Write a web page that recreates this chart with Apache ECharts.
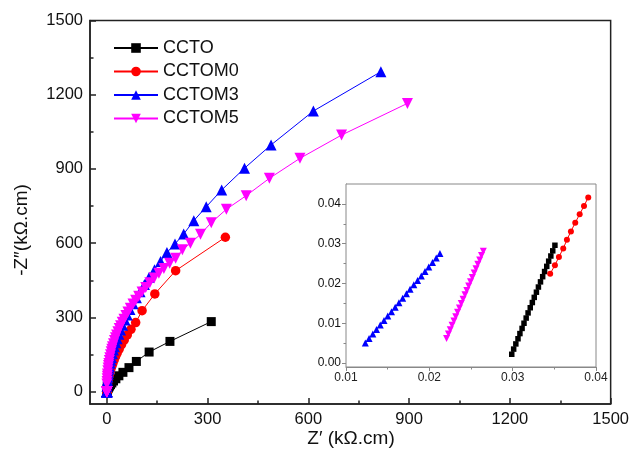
<!DOCTYPE html>
<html>
<head>
<meta charset="utf-8">
<script src="https://cdn.jsdelivr.net/npm/echarts@6/dist/echarts.min.js"></script>
<style>
  html, body { margin: 0; padding: 0; background: #fff; }
  #main { width: 632px; height: 455px; }
</style>
</head>
<body>
<div id="main"></div>
<script>
// 系列名称
var names = ['CCTO', 'CCTOM0', 'CCTOM3', 'CCTOM5']

// 主图刻度
var mainTicks = [0, 300, 600, 900, 1200, 1500]
var mainMinorTicks = [150, 450, 750, 1050, 1350]
// 插图刻度
var insetYTicks = [0, 0.01, 0.02, 0.03, 0.04]
var insetYMinorTicks = [0.005, 0.015, 0.025, 0.035]

// 高频段（插图）数据
var insetCctoX = [0.02989, 0.03012, 0.03038, 0.03064, 0.03087, 0.03113, 0.03136, 0.03162, 0.03185, 0.03211, 0.03236, 0.03259, 0.03285, 0.03309, 0.03334, 0.03360, 0.03383, 0.03409, 0.03432, 0.03458, 0.03481, 0.03507]
var insetCctoY = [0.0022, 0.0035, 0.0048, 0.0061, 0.0074, 0.0087, 0.0100, 0.0113, 0.0126, 0.0139, 0.0152, 0.0165, 0.0178, 0.0191, 0.0204, 0.0217, 0.0230, 0.0243, 0.0256, 0.0269, 0.0282, 0.0296]
var insetM0X = [0.03450, 0.03507, 0.03555, 0.03607, 0.03651, 0.03699, 0.03751, 0.03804, 0.03856, 0.03907]
var insetM0Y = [0.02245, 0.02456, 0.02668, 0.02878, 0.03098, 0.03309, 0.03529, 0.03739, 0.03949, 0.04162]
var insetM3X = [0.01232, 0.01277, 0.01322, 0.01366, 0.01411, 0.01456, 0.01501, 0.01546, 0.01590, 0.01635, 0.01680, 0.01725, 0.01769, 0.01814, 0.01859, 0.01904, 0.01948, 0.01993, 0.02038, 0.02083, 0.02127]
var insetM3Y = [0.00506, 0.00618, 0.00730, 0.00843, 0.00955, 0.01067, 0.01179, 0.01291, 0.01404, 0.01516, 0.01628, 0.01740, 0.01852, 0.01965, 0.02077, 0.02189, 0.02301, 0.02413, 0.02526, 0.02638, 0.02750]
var insetM5X = [0.02207, 0.02229, 0.02251, 0.02273, 0.02295, 0.02317, 0.02339, 0.02361, 0.02383, 0.02405, 0.02428, 0.02450, 0.02472, 0.02494, 0.02516, 0.02538, 0.02560, 0.02582, 0.02604, 0.02626, 0.02648]
var insetM5Y = [0.00618, 0.00728, 0.00837, 0.00947, 0.01056, 0.01166, 0.01276, 0.01385, 0.01495, 0.01604, 0.01714, 0.01824, 0.01933, 0.02043, 0.02152, 0.02262, 0.02372, 0.02481, 0.02591, 0.02700, 0.02810]

// 主图数据 Z' / -Z''
var cctoX = [0.8, 1.2, 1.7, 2.4, 3.3, 4.5, 6, 8, 11, 15, 20, 27, 36, 48, 66, 88, 126, 188, 311]
var cctoY = [4.6, 6.1, 7.8, 9.9, 12.3, 15.2, 18.5, 22.6, 28, 35, 43, 52, 64, 78, 97, 122, 160, 203, 283]
var m0X = [1, 2, 3, 4.5, 6, 8, 10, 12, 15, 18, 22, 26, 31, 37, 44, 52, 61, 72, 86, 105, 143, 205, 353]
var m0Y = [22, 33, 41, 52, 61, 72, 82, 90, 103, 114, 128, 141, 156, 172, 190, 209, 229, 252, 279, 327, 395, 489, 624]
var m3X = [0.5, 1, 1.5, 2, 3, 4, 5, 6.5, 8, 10, 12, 14, 17, 20, 23, 27, 31, 36, 41, 47, 54, 61, 69, 78, 88, 99, 112, 126, 142, 160, 179, 203, 229, 259, 296, 342, 410, 489, 615, 816]
var m3Y = [22, 32, 40, 47, 59, 69, 78, 90, 101, 115, 127, 138, 153, 168, 181, 198, 214, 232, 249, 268, 290, 310, 332, 355, 379, 404, 433, 462, 493, 526, 562, 597, 637, 691, 747, 815, 903, 997, 1134, 1293]
var m5X = [0.3, 0.6, 1, 1.5, 2, 3, 4, 5, 6, 7.5, 9, 11, 13, 15, 17, 20, 23, 26, 29, 33, 37, 41, 46, 51, 57, 63, 70, 78, 86, 95, 105, 116, 128, 141, 155, 170, 187, 205, 225, 249, 279, 311, 356, 415, 484, 575, 699, 895]
var m5Y = [31, 41, 52, 62, 71, 84, 96, 106, 114, 126, 137, 149, 161, 171, 181, 194, 207, 218, 229, 242, 255, 266, 280, 293, 308, 322, 337, 354, 369, 386, 403, 421, 440, 459, 478, 498, 519, 539, 573, 600, 636, 683, 737, 792, 862, 943, 1037, 1165]

var font = 'Liberation Sans, Arial, sans-serif'

function pairs (xs, ys) {
  return xs.map(function (x, i) { return [x, ys[i]] })
}

// 折线+符号
function line (name, color, symbol, size, rotate, data, axis) {
  return {
    name: name,
    type: 'line',
    xAxisIndex: axis,
    yAxisIndex: axis,
    data: data,
    symbol: symbol,
    symbolSize: size,
    symbolRotate: rotate,
    showAllSymbol: true,
    itemStyle: { color: color },
    lineStyle: { color: color, width: 1 },
    emphasis: { disabled: true }
  }
}

function tickAxis (grid, min, max, major, color, len, inside, labelSize, showLine) {
  return {
    type: 'value',
    gridIndex: grid,
    min: min,
    max: max,
    splitLine: { show: false },
    axisLine: { show: showLine, onZero: false, lineStyle: { color: color, width: grid === 0 ? 1.5 : 1 } },
    axisTick: { show: true, inside: inside, length: len, customValues: major, lineStyle: { color: color, width: grid === 0 ? 1.5 : 1 } },
    axisLabel: labelSize ? {
      show: true, customValues: major, fontSize: labelSize, fontFamily: font, color: '#111', margin: grid === 0 ? 7 : 5,
      formatter: function (v) { return grid === 0 ? String(v) : v.toFixed(2) }
    } : { show: false }
  }
}

var chart = echarts.init(document.getElementById('main'))

var xMain = tickAxis(0, -50, 1500, mainTicks, '#222', 6, true, 16.5, true)
xMain.position = 'bottom'
var xMainMinor = tickAxis(0, -50, 1500, mainMinorTicks, '#222', 3.5, true, 0, false)
xMainMinor.position = 'bottom'
var yMain = tickAxis(0, -50, 1500, mainTicks, '#222', 6, true, 16.5, true)
yMain.position = 'left'
var yMainMinor = tickAxis(0, -50, 1500, mainMinorTicks, '#222', 3.5, true, 0, false)
yMainMinor.position = 'left'

// 插图 x 轴
var xInset = {
  type: 'value',
  gridIndex: 1,
  position: 'bottom',
  min: 0.01,
  max: 0.04,
  interval: 0.01,
  splitLine: { show: false },
  axisLine: { onZero: false, lineStyle: { color: '#888', width: 1 } },
  axisTick: { inside: false, length: 4, lineStyle: { color: '#888' } },
  minorTick: { show: true, splitNumber: 2, length: 2.5, lineStyle: { color: '#888' } },
  axisLabel: { fontSize: 12, fontFamily: font, color: '#222', margin: 5, formatter: function (v) { return v.toFixed(2) } }
}
var yInset = tickAxis(1, -0.001, 0.045, insetYTicks, '#888', 4, false, 12, true)
yInset.position = 'left'
var yInsetMinor = tickAxis(1, -0.001, 0.045, insetYMinorTicks, '#888', 2.5, false, 0, false)
yInsetMinor.position = 'left'

chart.setOption({
  animation: false,
  backgroundColor: '#fff',
  grid: [
    { left: 90, right: 20, top: 20.5, bottom: 51, show: true, borderColor: '#222', borderWidth: 1.5 },
    { left: 346, right: 36, top: 184, bottom: 88, show: true, borderColor: '#888', borderWidth: 1, backgroundColor: '#fff', z: 3 }
  ],
  legend: {
    orient: 'vertical',
    left: 113,
    top: 39,
    padding: 0,
    itemWidth: 44,
    itemHeight: 12,
    itemGap: 5.5,
    data: names,
    textStyle: { fontSize: 18, fontFamily: font, color: '#111', lineHeight: 18 }
  },
  xAxis: [xMain, xMainMinor, xInset],
  yAxis: [yMain, yMainMinor, yInset, yInsetMinor],
  // 坐标轴标题
  graphic: [
    {
      type: 'text', x: 351, y: 439, z: 10,
      style: { text: 'Z\u2032 (k\u03A9.cm)', font: '19px ' + font, fill: '#111', textAlign: 'center', textVerticalAlign: 'middle' }
    },
    {
      type: 'text', x: 22, y: 230, rotation: Math.PI / 2, z: 10,
      style: { text: '-Z\u2033(k\u03A9.cm)', font: '19px ' + font, fill: '#111', textAlign: 'center', textVerticalAlign: 'middle' }
    }
  ],
  series: [
    line(names[0], '#000000', 'rect', 9, 0, pairs(insetCctoX.concat(cctoX), insetCctoY.concat(cctoY)), 0),
    line(names[1], '#ff0000', 'circle', 9.5, 0, pairs(insetM0X.concat(m0X), insetM0Y.concat(m0Y)), 0),
    line(names[2], '#0000ff', 'triangle', 11, 0, pairs(insetM3X.concat(m3X), insetM3Y.concat(m3Y)), 0),
    line(names[3], '#ff00ff', 'triangle', 11, 180, pairs(insetM5X.concat(m5X), insetM5Y.concat(m5Y)), 0),
    // 插图
    Object.assign(line(names[0], '#000000', 'rect', 5.5, 0, pairs(insetCctoX, insetCctoY), 2), { xAxisIndex: 2, yAxisIndex: 2, z: 4 }),
    Object.assign(line(names[1], '#ff0000', 'circle', 6, 0, pairs(insetM0X, insetM0Y), 2), { xAxisIndex: 2, yAxisIndex: 2, z: 4 }),
    Object.assign(line(names[2], '#0000ff', 'triangle', 7, 0, pairs(insetM3X, insetM3Y), 2), { xAxisIndex: 2, yAxisIndex: 2, z: 4 }),
    Object.assign(line(names[3], '#ff00ff', 'triangle', 7, 180, pairs(insetM5X, insetM5Y), 2), { xAxisIndex: 2, yAxisIndex: 2, z: 4 })
  ]
})
</script>
</body>
</html>
